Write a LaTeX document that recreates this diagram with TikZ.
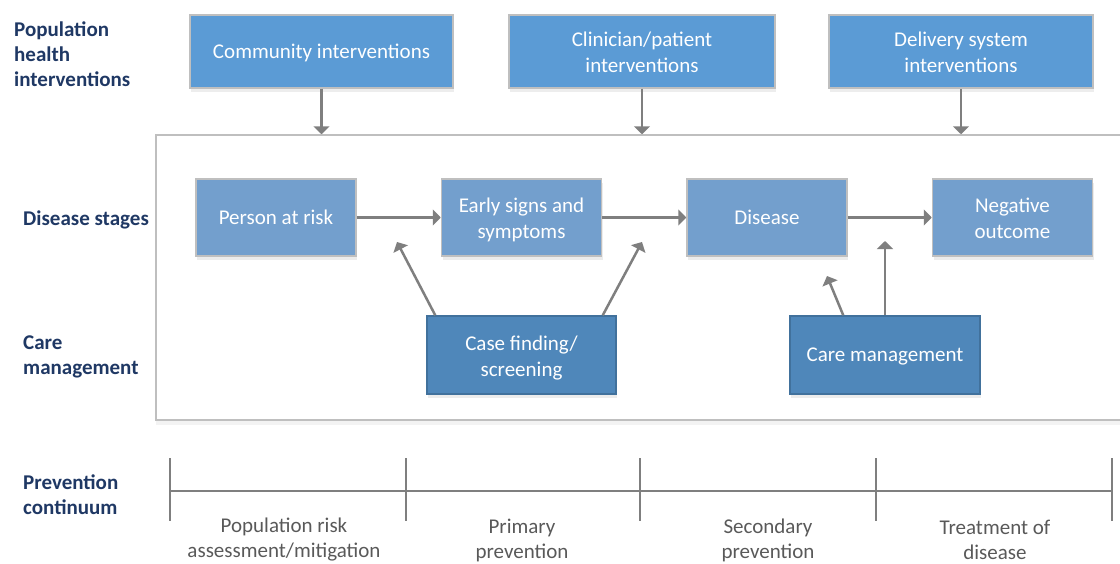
\documentclass[tikz,border=0pt]{standalone}
\usepackage{fontspec}
\setmainfont{Carlito}
\usetikzlibrary{arrows.meta,shadows,calc}
\definecolor{topblue}{HTML}{5B9BD5}
\definecolor{stageblue}{HTML}{739FCD}
\definecolor{careblue}{HTML}{4F87BA}
\definecolor{careedge}{HTML}{41719C}
\definecolor{boxedge}{HTML}{BFBFBF}
\definecolor{arrowgray}{HTML}{7F7F7F}
\definecolor{navy}{HTML}{1F3864}
\definecolor{txtgray}{HTML}{595959}
\newcommand{\firststrut}{\rule{0pt}{22.5pt}}
\begin{document}
\begin{tikzpicture}[x=1pt,y=-1pt,
  base/.style={inner sep=0pt, align=center, text=white, font=\fontsize{21}{26}\selectfont,
    execute at begin node={\rule[-6pt]{0pt}{25pt}},
    execute at end node={\rule[-6pt]{0pt}{25pt}},
    drop shadow={opacity=0.10, shadow xshift=1pt, shadow yshift=-4pt, fill=black!70}},
  topbox/.style={base, fill=topblue, draw=boxedge, line width=1.5pt, minimum height=73pt},
  stagebox/.style={base, fill=stageblue, draw=boxedge, line width=1.5pt, minimum width=160pt, minimum height=77pt},
  carebox/.style={base, fill=careblue, draw=careedge, line width=1.5pt, minimum height=78pt},
  framebox/.style={fill=white, draw=boxedge, line width=1.5pt, inner sep=0pt,
    drop shadow={opacity=0.08, shadow xshift=0pt, shadow yshift=-5pt, fill=black!60}},
  rowlabel/.style={anchor=west, align=left, text=navy, inner sep=0pt, font=\bfseries\fontsize{21}{25}\selectfont},
  phaselabel/.style={align=center, text=txtgray, inner sep=0pt, font=\fontsize{21}{25}\selectfont},
  arr/.style={draw=arrowgray, line width=2.5pt, -{Triangle[length=8pt,width=16pt]}},
  tline/.style={draw=arrowgray, line width=2.5pt}
]
\useasboundingbox (0,0) rectangle (1120,563);

% container
\node[framebox, minimum width=998pt, minimum height=285pt] (frame) at (655,277.5) {};

% top interventions
\node[topbox, minimum width=263pt] (comm) at (321.5,51.5) {Community interventions};
\node[topbox, minimum width=266pt] (clin) at (642,51.5) {\firststrut Clinician/patient\\interventions};
\node[topbox, minimum width=264pt] (deliv) at (961,51.5) {\firststrut Delivery system\\interventions};

% disease stages
\node[stagebox] (person) at (276,217.5) {Person at risk};
\node[stagebox] (early) at (521.5,217.5) {\firststrut Early signs and\\symptoms};
\node[stagebox] (disease) at (767,217.5) {Disease};
\node[stagebox] (neg) at (1012.5,217.5) {\firststrut Negative\\outcome};

% care management
\node[carebox, minimum width=189pt] (case) at (521.5,355) {\firststrut Case finding/\\screening};
\node[carebox, minimum width=190pt] (care) at (885,355) {Care management};

% row labels
\node[rowlabel] (lpop) at (14,54.5) {Population\\health\\interventions};
\node[rowlabel] (lstage) at (23,219.5) {Disease stages};
\node[rowlabel] (lcare) at (23,357) {Care\\management};
\node[rowlabel] (lprev) at (23,494.5) {Prevention\\continuum};

% arrows from top
\draw[arr] (comm.south) -- (comm.south |- frame.north);
\draw[arr] (clin.south) -- (clin.south |- frame.north);
\draw[arr] (deliv.south) -- (deliv.south |- frame.north);

% stage arrows
\draw[arr] (person.east) -- (early.west);
\draw[arr] (early.east) -- (disease.west);
\draw[arr] (disease.east) -- (neg.west);

% care arrows
\coordinate (cfL) at (397,242);
\coordinate (cfR) at (642,242);
\coordinate (cmL) at (827,276);
\coordinate (cmU) at (885,241);
\draw[arr] ($(case.north west)+(9,0)$) -- (cfL);
\draw[arr] ($(case.north east)+(-14,0)$) -- (cfR);
\draw[arr] ($(care.north west)+(54,0)$) -- (cmL);
\draw[arr] (care.north) -- (cmU);

% prevention continuum
\coordinate (t0) at (170,491);
\coordinate (t1) at (406,491);
\coordinate (t2) at (640,491);
\coordinate (t3) at (876,491);
\coordinate (t4) at (1112,491);
\draw[tline] (t0) -- (t4);
\foreach \t in {t0,t1,t2,t3,t4}{
  \draw[tline] ($(\t)+(0,-33)$) -- ($(\t)+(0,30)$);
}
\node[phaselabel] (p1) at (284,540) {Population risk\\assessment/mitigation};
\node[phaselabel] (p2) at (522,540) {Primary\\prevention};
\node[phaselabel] (p3) at (768,540) {Secondary\\prevention};
\node[phaselabel] (p4) at (995,540) {Treatment of\\disease};
\end{tikzpicture}
\end{document}
